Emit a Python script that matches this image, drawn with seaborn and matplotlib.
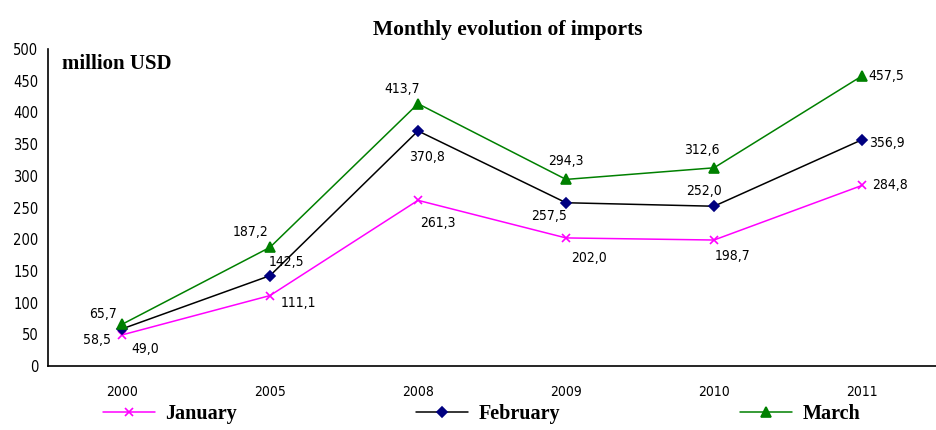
import numpy as np
import pandas as pd
import matplotlib
matplotlib.use("Agg")
import matplotlib.pyplot as plt
import seaborn as sns

sns.set_theme(style="white")
plt.rcParams["font.family"] = ["DejaVu Sans"]
plt.rcParams["font.stretch"] = "condensed"
plt.rcParams["text.color"] = "black"
plt.rcParams["xtick.color"] = "black"
plt.rcParams["ytick.color"] = "black"

years = ["2000", "2005", "2008", "2009", "2010", "2011"]
january = [49.0, 111.1, 261.3, 202.0, 198.7, 284.8]
february = [58.5, 142.5, 370.8, 257.5, 252.0, 356.9]
march = [65.7, 187.2, 413.7, 294.3, 312.6, 457.5]

# label offsets in pixels (dx, dy) for each point
jan_off = [(23, -14), (28, -7), (20, -23), (23, -20), (19, -16), (28, 0)]
feb_off = [(-25, -11), (16, 14), (9, -26), (-17, -13), (-10, 15), (25, -3)]
mar_off = [(-19, 10), (-19, 15), (-16, 15), (0, 18), (-12, 18), (24, 0)]

df = pd.DataFrame({"year": years * 3,
                   "value": january + february + march,
                   "month": ["January"] * 6 + ["February"] * 6 + ["March"] * 6})
df["pos"] = list(range(len(years))) * 3

fig = plt.figure(figsize=(9.36, 4.30), dpi=100)
ax = fig.add_axes([48 / 936, 1 - 366 / 430, 888 / 936, 317 / 430])

styles = {
    "January": dict(color="#ff00ff", marker="x", mfc="#ff00ff", mec="#ff00ff", ms=6, off=jan_off),
    "February": dict(color="#000000", marker="D", mfc="#000080", mec="#000080", ms=5, off=feb_off),
    "March": dict(color="#008000", marker="^", mfc="#008000", mec="#008000", ms=7, off=mar_off),
}

handles = []
for month, st in styles.items():
    sub = df[df["month"] == month]
    sns.lineplot(data=sub, x="pos", y="value", ax=ax, color=st["color"], lw=1.1,
                 marker=st["marker"], markersize=st["ms"], markerfacecolor=st["mfc"],
                 markeredgecolor=st["mec"], markeredgewidth=1.2, label=month)
    handles.append(ax.get_lines()[-1])
    for xv, yv, (dx, dy) in zip(sub["pos"], sub["value"], st["off"]):
        ax.annotate(f"{yv:.1f}".replace(".", ","), (xv, yv), xytext=(dx, dy),
                    textcoords="offset pixels", ha="center", va="center",
                    fontsize=10, color="black")

ax.set_xlim(-0.5, len(years) - 0.5)
ax.set_ylim(0, 500)
ax.set_yticks(np.arange(0, 501, 50))
ax.set_xticks(range(len(years)))
ax.set_xticklabels(years)
ax.set_xticks(np.arange(0.5, len(years), 1), minor=True)
ax.tick_params(axis="x", which="major", length=0, pad=14, labelsize=10)
ax.tick_params(axis="x", which="minor", length=5, width=1, color="black", direction="out")
ax.tick_params(axis="y", length=4, width=1, color="black", direction="out", labelsize=10.5, pad=3)
ax.set_xlabel("")
ax.set_ylabel("")
for side in ["top", "right"]:
    ax.spines[side].set_visible(False)
for side in ["left", "bottom"]:
    ax.spines[side].set_color("black")
    ax.spines[side].set_linewidth(1.2)
ax.get_legend().remove()

serif = ["Liberation Serif", "DejaVu Serif"]
ax.text(14 / 888, 0.985, "million USD", transform=ax.transAxes, ha="left", va="top",
        fontsize=15, fontweight="bold", family=serif)

fig.text(508 / 936, 1 - 30 / 430, "Monthly evolution of imports", ha="center", va="center",
         fontsize=15.5, fontweight="bold", family=serif)

# legend entries spaced like the original
legend_x = [170 / 936, 488 / 936, 800 / 936]
for h, lab, lx in zip(handles, styles.keys(), legend_x):
    fig.legend([h], [lab], loc="center", bbox_to_anchor=(lx, 1 - 414 / 430),
               frameon=False, handlelength=2.6, handletextpad=0.5,
               prop={"family": serif, "size": 14.5, "weight": "bold"})

fig.savefig("out.png", dpi=100)
